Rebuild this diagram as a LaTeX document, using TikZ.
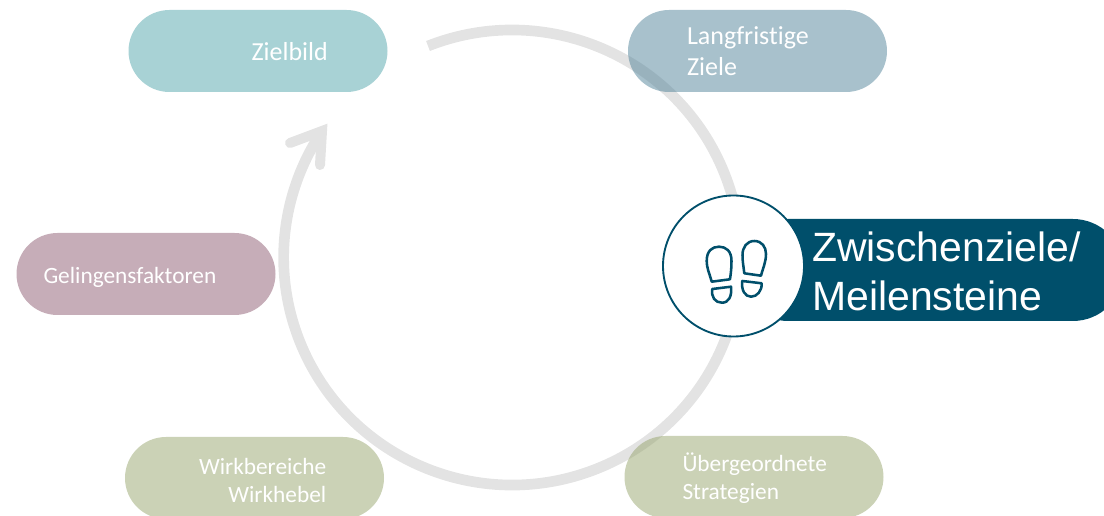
\documentclass[tikz,border=0pt]{standalone}
\usepackage{fontspec}
\setmainfont{Carlito}[Ligatures=NoCommon]
\newfontfamily\bigfont{Liberation Sans}
\usepackage{xcolor}
\usetikzlibrary{calc}
\usetikzlibrary{shapes.misc}

\definecolor{ringgrey}{HTML}{E3E3E3}
\definecolor{tealpill}{HTML}{51A5AB}
\definecolor{bluepill}{HTML}{518399}
\definecolor{mauvepill}{HTML}{8D5B71}
\definecolor{greenpill}{HTML}{97A56D}
\definecolor{darkpill}{HTML}{004F6B}

\begin{document}
\begin{tikzpicture}[x=0.75pt,y=-0.75pt]
        \tikzstyle{pill}=[rounded rectangle,minimum width=194.25pt,minimum height=61.5pt,inner sep=0pt,fill opacity=0.5,text opacity=1]
        \tikzstyle{caption}=[text=white,anchor=west,inner sep=0pt,align=left,font=\fontsize{17.5pt}{21pt}\selectfont]
        \tikzstyle{bigcaption}=[caption,font=\fontsize{19.5pt}{23pt}\selectfont]
        \tikzstyle{ring}=[draw=ringgrey,line width=8pt]
        \tikzstyle{shoe}=[draw=darkpill,line width=1.9pt,line join=round]
        \clip (0,0) rectangle (1104,516);

        \coordinate (ringstart) at (428,46);
        \coordinate (wingleft) at (290,143);
        \coordinate (arrowtip) at (322,131);
        \coordinate (wingright) at (320,165);
        \draw[ring] (ringstart) arc[start angle=-111.6,end angle=213.9,x radius=228.5,y radius=227.5];
        \draw[ring,line width=7.5pt,line cap=round,line join=miter] (wingleft) -- (arrowtip) -- (wingright);

        \node[pill,fill=tealpill] (zielbild) at (258,51) {};
        \node[pill,fill=bluepill] (langfristig) at (757.5,51) {};
        \node[pill,fill=mauvepill] (gelingen) at (146,274) {};
        \node[pill,fill=greenpill] (wirk) at (254.5,478) {};
        \node[pill,fill=greenpill] (strategie) at (754,477) {};

        \node[bigcaption] (zielbildtext) at ($(zielbild.west)+(123,1)$) {Zielbild};
        \node[bigcaption] (langfristigtext) at ($(langfristig.west)+(59,0)$) {Langfristige\\Ziele};
        \node[caption] (gelingentext) at ($(gelingen.west)+(27,3)$) {Gelingensfaktoren};
        \node[caption,align=right] (wirktext) at ($(wirk.west)+(74,2)$) {Wirkbereiche\\Wirkhebel};
        \node[caption] (strategietext) at ($(strategie.west)+(58,1)$) {Übergeordnete\\Strategien};

        \node[rounded rectangle,fill=darkpill,minimum width=290pt,minimum height=76.5pt,inner sep=0pt] (meilenstein) at (930.5,270) {};
        \node[draw=darkpill,fill=white,circle,line width=1.4pt,minimum size=105.75pt,inner sep=0pt] (fusskreis) at (733.5,266) {};
        \node[text=white,anchor=west,inner sep=0pt,align=left,font=\bigfont\fontsize{30.7pt}{36.75pt}\selectfont] (meilensteintext) at (812,271) {Zwischenziele/\\Meilensteine};

        % Fussabdruecke
        \draw[shoe] (711.7,281.7) .. controls (709,272) and (706.7,268) .. (706.7,261) .. controls (706.7,251) and (712,246.7) .. (719,246.7) .. controls (726,246.7) and (731.5,251) .. (731.5,261) .. controls (731.5,268) and (731,272) .. (730,279.3) -- cycle;
        \draw[shoe] (712.3,289) -- (731,286.7) .. controls (732,296) and (729,302.7) .. (722,302.7) .. controls (715,302.7) and (711,297) .. (712.3,289) -- cycle;
        \draw[shoe] (744.3,273.3) .. controls (743.5,266) and (742.5,262) .. (742.5,255) .. controls (742.5,247) and (747,241) .. (754.3,241) .. controls (762,241) and (766,247) .. (766,254) .. controls (766,262) and (763,268) .. (761,275.7) -- cycle;
        \draw[shoe] (742.3,281) -- (761.7,283.3) .. controls (762,291) and (757,296.7) .. (751,296.7) .. controls (745,296.7) and (741,290) .. (742.3,281) -- cycle;
    \end{tikzpicture}
\end{document}
